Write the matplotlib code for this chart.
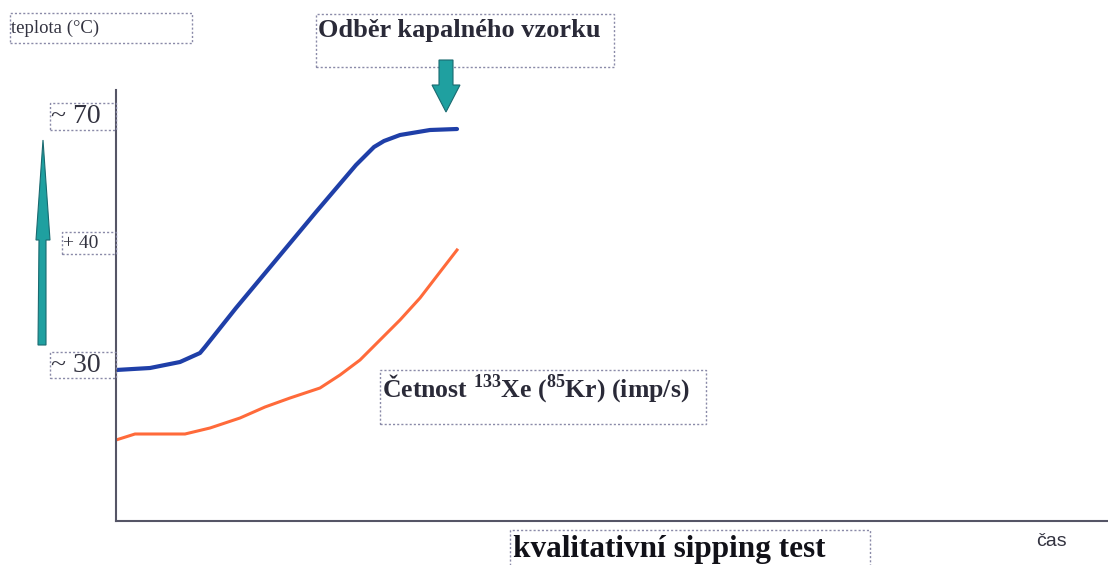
import matplotlib
matplotlib.use("Agg")
import matplotlib.pyplot as plt
from matplotlib.patches import Rectangle, Polygon

plt.rcParams['mathtext.fontset'] = 'custom'
plt.rcParams['mathtext.rm'] = 'Liberation Serif:bold'
plt.rcParams['mathtext.bf'] = 'Liberation Serif:bold'

# schematic curves (arbitrary units)
blue_x = [0, 34, 64, 84, 89, 120, 160, 200, 240, 250, 258, 268, 284, 314, 341]
blue_y = [151, 153, 159, 168, 174, 213, 261, 309, 356, 366, 374, 380, 386, 391, 392]
orange_x = [0, 19, 69, 94, 124, 149, 174, 204, 224, 244, 264, 284, 304, 324, 341]
orange_y = [81, 87, 87, 93, 103, 114, 123, 133, 146, 161, 181, 201, 223, 249, 271]
tick_labels = ['~ 70', '+ 40', '~ 30']
tick_pos = [405, 278, 156]

W, H = 1108, 565
fig = plt.figure(figsize=(W / 100, H / 100), dpi=100)

# axes placed to match the picture (pixels, top-left origin)
ax_l, ax_r, ax_t, ax_b = 116, 1108, 90, 521
ax = fig.add_axes([ax_l / W, 1 - ax_b / H, (ax_r - ax_l) / W, (ax_b - ax_t) / H])
ax.set_xlim(0, ax_r - ax_l)
ax.set_ylim(0, ax_b - ax_t)
for s in ['top', 'right']:
    ax.spines[s].set_visible(False)
for s in ['left', 'bottom']:
    ax.spines[s].set_color('#555566')
    ax.spines[s].set_linewidth(1.5)
ax.set_xticks([])
ax.set_yticks([])

ax.plot(blue_x, blue_y, color='#1f3fa8', lw=3, solid_capstyle='round')
ax.plot(orange_x, orange_y, color='#ff6a3a', lw=2.2)


def fx(px):
    return px / W


def fy(py):
    return 1 - py / H


def box(x0, y0, x1, y1):
    fig.add_artist(Rectangle((fx(x0), fy(y1)), fx(x1) - fx(x0), fy(y0) - fy(y1),
                             transform=fig.transFigure, fill=False,
                             ec='#8a8aa8', ls=(0, (1.5, 1.5)), lw=1.0))


serif = 'Liberation Serif'

# y tick label boxes
tick_boxes = [(50, 103, 116, 130, 20), (62, 232, 116, 254, 14), (50, 352, 116, 378, 20)]
for (x0, y0, x1, y1, fs), lab, yp in zip(tick_boxes, tick_labels, tick_pos):
    box(x0, y0, x1, y1)
    fig.text(fx(x0 + 1), fy((y0 + y1) / 2), lab, ha='left', va='center',
             fontsize=fs, family=serif, color='#333340')

# titles / labels
box(10, 13, 192, 43)
fig.text(fx(11), fy(28), 'teplota (°C)', ha='left', va='center', fontsize=13.5,
         family=serif, color='#333340')

box(316, 14, 614, 67)
fig.text(fx(318), fy(31), 'Odběr kapalného vzorku', ha='left', va='center',
         fontsize=19, family=serif, weight='bold', color='#2a2a38')

box(380, 370, 706, 424)
fig.text(fx(382), fy(389), 'Četnost $^{133}$Xe ($^{85}$Kr) (imp/s)', ha='left',
         va='center', fontsize=18.5, family=serif, weight='bold', color='#2a2a38')

box(510, 530, 870, 575)
fig.text(fx(513), fy(550), 'kvalitativní sipping test', ha='left', va='center',
         fontsize=22.5, family=serif, weight='bold', color='#111118')

fig.text(fx(1036), fy(541), 'čas', ha='left', va='center', fontsize=14,
         family='Liberation Sans', color='#333340')

# arrows
teal = '#1fa0a0'
up = [(38, 345), (46, 345), (46, 240), (50, 240), (43, 140), (36, 240), (39, 240)]
fig.add_artist(Polygon([(fx(x), fy(y)) for x, y in up], closed=True,
                       transform=fig.transFigure, fc=teal, ec='#1a6a70', lw=0.8))
down = [(439, 60), (453, 60), (453, 85), (460, 85), (446, 112), (432, 85), (439, 85)]
fig.add_artist(Polygon([(fx(x), fy(y)) for x, y in down], closed=True,
                       transform=fig.transFigure, fc=teal, ec='#1a6a70', lw=0.8))

fig.savefig('out.png', dpi=100)
